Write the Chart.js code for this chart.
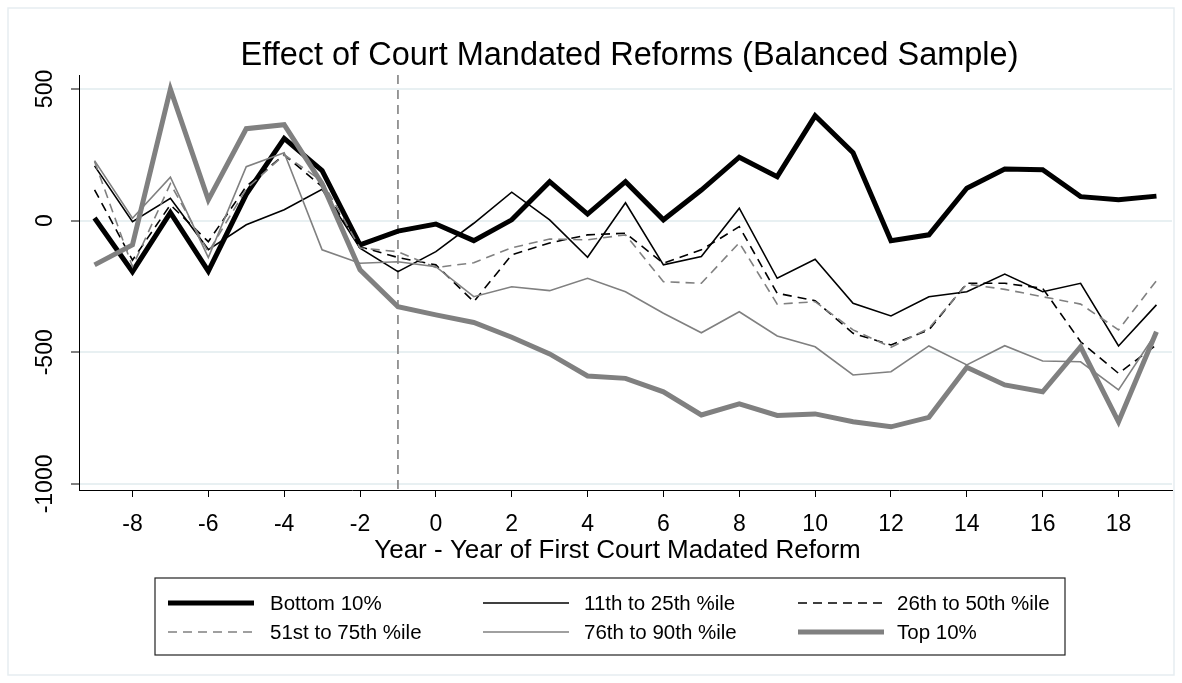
<!DOCTYPE html>
<html>
<head>
<meta charset="utf-8">
<script src="https://cdn.jsdelivr.net/npm/chart.js@4.4.1/dist/chart.umd.min.js"></script>
<style>
  body { margin: 0; background: #fff; }
  canvas { display: block; }
</style>
</head>
<body>
<canvas id="chart" width="1182" height="683"></canvas>
<script>
// DATA
const years = [-9, -8, -7, -6, -5, -4, -3, -2, -1, 0, 1, 2, 3, 4, 5, 6, 7, 8, 9, 10, 11, 12, 13, 14, 15, 16, 17, 18, 19];
const bottom10 = [10, -194, 30, -192, 100, 312, 190, -92, -40, -13, -76, 3, 148, 25, 148, 3, 116, 241, 167, 398, 258, -76, -54, 123, 196, 193, 91, 79, 93];
const p11to25 = [208, -4, 85, -110, -16, 41, 119, -105, -194, -118, -10, 108, 3, -139, 68, -168, -136, 47, -219, -147, -314, -362, -289, -270, -203, -270, -238, -476, -320];
const p26to50 = [117, -150, 60, -80, 130, 250, 129, -99, -140, -168, -308, -130, -85, -54, -48, -162, -111, -23, -276, -304, -428, -472, -415, -238, -238, -257, -460, -580, -472];
const p51to75 = [225, -175, 140, -120, 120, 250, 150, -104, -118, -178, -160, -103, -70, -73, -54, -232, -238, -84, -317, -308, -415, -481, -409, -241, -261, -289, -317, -415, -228];
const p76to90 = [228, 9, 165, -140, 205, 258, -111, -162, -156, -175, -289, -251, -266, -219, -270, -352, -426, -346, -438, -479, -586, -574, -476, -548, -475, -533, -536, -643, -425];
const top10 = [-168, -92, 499, 79, 349, 364, 140, -187, -327, -358, -387, -443, -506, -590, -599, -650, -738, -696, -740, -734, -764, -783, -747, -557, -624, -650, -479, -764, -422];
const seriesNames = ["Bottom 10%", "11th to 25th %ile", "26th to 50th %ile", "51st to 75th %ile", "76th to 90th %ile", "Top 10%"];
const xTicks = [-8, -6, -4, -2, 0, 2, 4, 6, 8, 10, 12, 14, 16, 18];
const yTicks = [-1000, -500, 0, 500];
const reformYear = -1;

const title = "Effect of Court Mandated Reforms (Balanced Sample)";
const xTitle = "Year - Year of First Court Madated Reform";
const FONT = '"Liberation Sans", Arial, sans-serif';
const GRAY = "#808080";

const toPoints = (arr) => arr.map((v, i) => ({ x: years[i], y: v }));

// line styles
const styles = [
  { color: "#000", width: 5, dash: [] },
  { color: "#000", width: 1.6, dash: [] },
  { color: "#000", width: 1.6, dash: [9, 6] },
  { color: GRAY, width: 1.6, dash: [9, 6] },
  { color: GRAY, width: 1.6, dash: [] },
  { color: GRAY, width: 5, dash: [] },
];
const allSeries = [bottom10, p11to25, p26to50, p51to75, p76to90, top10];

const datasets = allSeries.map((arr, i) => ({
  label: seriesNames[i],
  data: toPoints(arr),
  borderColor: styles[i].color,
  borderWidth: styles[i].width,
  borderDash: styles[i].dash,
  pointRadius: 0,
  tension: 0,
  fill: false,
  order: allSeries.length - 1 - i, // top 10% drawn last
  borderJoinStyle: "miter",
}));

// decorations: frame, title, rotated y labels, reform line, x title, legend
const decor = {
  id: "decor",
  beforeDraw(chart) {
    const ctx = chart.ctx;
    ctx.save();
    ctx.fillStyle = "#fff";
    ctx.fillRect(0, 0, chart.width, chart.height);
    ctx.strokeStyle = "#e6edf1";
    ctx.lineWidth = 1.5;
    ctx.strokeRect(8, 8, chart.width - 16, chart.height - 16);
    ctx.restore();
  },
  beforeDatasetsDraw(chart) {
    const ctx = chart.ctx;
    const area = chart.chartArea;
    const x = chart.scales.x.getPixelForValue(reformYear);
    ctx.save();
    ctx.strokeStyle = GRAY;
    ctx.lineWidth = 1.6;
    ctx.setLineDash([9, 6]);
    ctx.beginPath();
    ctx.moveTo(x, area.top);
    ctx.lineTo(x, area.bottom);
    ctx.stroke();
    ctx.restore();
  },
  afterDraw(chart) {
    const ctx = chart.ctx;
    const area = chart.chartArea;
    const yScale = chart.scales.y;
    ctx.save();
    ctx.fillStyle = "#000";
    ctx.textAlign = "center";
    ctx.textBaseline = "middle";

    ctx.font = "32.5px " + FONT;
    ctx.fillText(title, (area.left + area.right) / 2 + 4, 56);

    ctx.font = "26px " + FONT;
    ctx.fillText(xTitle, (area.left + area.right) / 2 - 8, 551);

    // y tick labels, rotated
    ctx.font = "23px " + FONT;
    yTicks.forEach((v) => {
      ctx.save();
      ctx.translate(46, yScale.getPixelForValue(v));
      ctx.rotate(-Math.PI / 2);
      ctx.fillText(String(v), 0, 0);
      ctx.restore();
    });

    // legend
    const box = { x: 155, y: 578, w: 910, h: 77 };
    ctx.strokeStyle = "#222";
    ctx.lineWidth = 1.2;
    ctx.strokeRect(box.x, box.y, box.w, box.h);
    const colX = [168, 483, 798];
    const textX = [270, 584, 897];
    const rowY = [603, 632];
    ctx.font = "20.5px " + FONT;
    ctx.textAlign = "left";
    chart.data.datasets.forEach((ds, i) => {
      const cx = colX[i % 3];
      const cy = rowY[Math.floor(i / 3)];
      ctx.save();
      ctx.strokeStyle = ds.borderColor;
      ctx.lineWidth = ds.borderWidth;
      ctx.setLineDash(ds.borderDash);
      ctx.beginPath();
      ctx.moveTo(cx, cy);
      ctx.lineTo(cx + 86, cy);
      ctx.stroke();
      ctx.restore();
      ctx.fillText(ds.label, textX[i % 3], cy + 1);
    });
    ctx.restore();
  },
};

const ctx = document.getElementById("chart").getContext("2d");
const myChart = new Chart(ctx, {
  type: "line",
  data: { datasets },
  plugins: [decor],
  options: {
    responsive: false,
    animation: false,
    devicePixelRatio: 1,
    layout: { padding: { left: 0, right: 10, top: 75, bottom: 0 } },
    plugins: { legend: { display: false }, tooltip: { enabled: false } },
    scales: {
      x: {
        type: "linear",
        min: -9.41,
        max: 19.41,
        afterBuildTicks: (scale) => {
          scale.ticks = xTicks.map((v) => ({ value: v }));
        },
        afterFit: (scale) => {
          scale.height = 193;
        },
        grid: { drawOnChartArea: false, drawTicks: true, tickLength: 7, tickColor: "#000", tickWidth: 1 },
        border: { display: true, color: "#000", width: 1 },
        ticks: {
          autoSkip: false,
          maxRotation: 0,
          padding: 14,
          color: "#000",
          font: { family: FONT, size: 23 },
          callback: (v) => String(v),
        },
      },
      y: {
        type: "linear",
        min: -1023,
        max: 553,
        afterBuildTicks: (scale) => {
          scale.ticks = yTicks.map((v) => ({ value: v }));
        },
        afterFit: (scale) => {
          scale.width = 79;
        },
        grid: { color: "#e8f0f2", lineWidth: 2, drawTicks: true, tickLength: 8, tickColor: "#000", tickWidth: 1 },
        border: { display: true, color: "#000", width: 1 },
        ticks: { display: false },
      },
    },
  },
});
</script>
</body>
</html>
